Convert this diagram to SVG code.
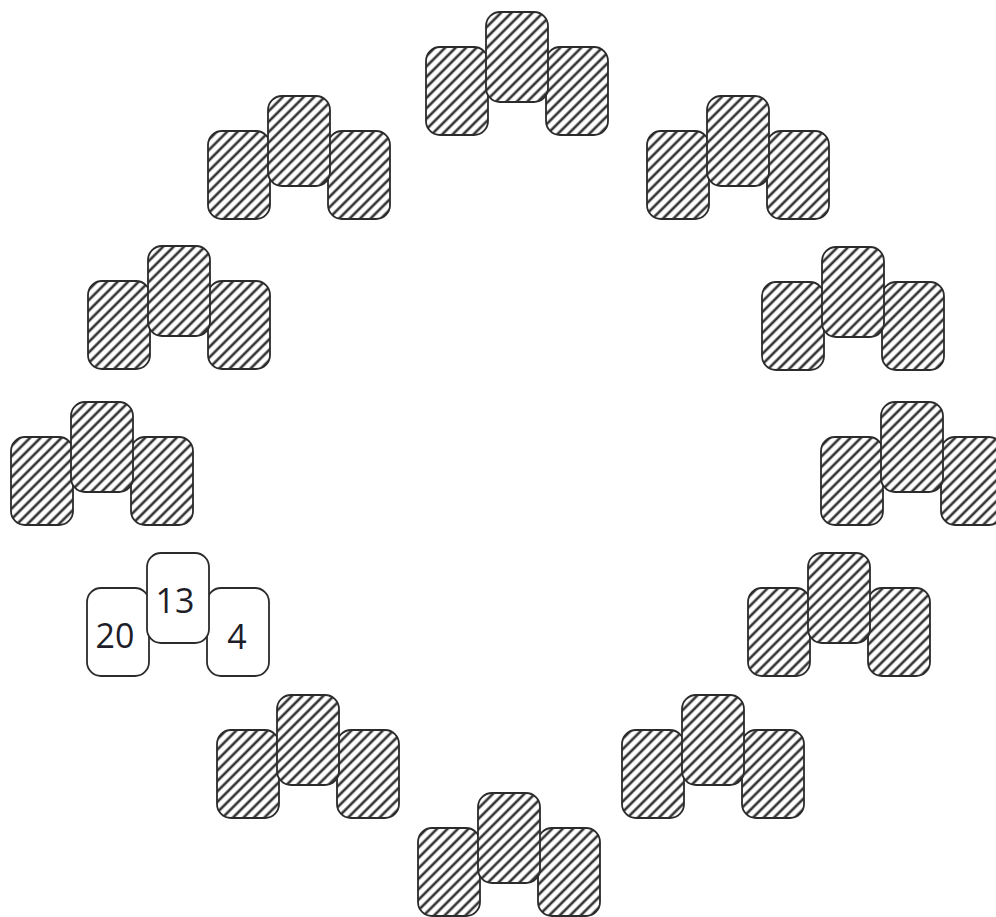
<svg xmlns="http://www.w3.org/2000/svg" xmlns:xlink="http://www.w3.org/1999/xlink" width="996" height="917" viewBox="0 0 996 917">
<style>
.card{fill:url(#hatch);stroke:#2b2b2b;stroke-width:1.8}
.plain{fill:#fff;stroke:#2b2b2b;stroke-width:1.8}
.num{font-family:"Open Sans","Liberation Sans",sans-serif;font-size:34px;font-weight:500;fill:#1e1e2a;text-anchor:middle}
</style>
<defs>
<pattern id="hatch" patternUnits="userSpaceOnUse" width="7.4" height="7.4" patternTransform="rotate(45)">
<rect width="7.4" height="7.4" fill="#fff"/>
<line x1="1.8" y1="0" x2="1.8" y2="7.4" stroke="#333" stroke-width="2.6"/>
</pattern>
<g id="trio">
<rect class="card" x="0" y="35" width="62" height="88" rx="14"/>
<rect class="card" x="120" y="35" width="62" height="88" rx="14"/>
<rect class="card" x="60" y="0" width="62" height="90" rx="14"/>
</g>
</defs>
<g id="n1"><use xlink:href="#trio" x="426" y="12"/></g>
<g id="n2"><use xlink:href="#trio" x="208" y="96"/></g>
<g id="n3"><use xlink:href="#trio" x="88" y="246"/></g>
<g id="n4"><use xlink:href="#trio" x="11" y="402"/></g>
<g id="n5">
<rect class="plain" x="87" y="588" width="62" height="88" rx="14"/>
<rect class="plain" x="207" y="588" width="62" height="88" rx="14"/>
<rect class="plain" x="147" y="553" width="62" height="90" rx="14"/>
<text class="num" x="115" y="648">20</text>
<text class="num" x="175" y="613">13</text>
<text class="num" x="237" y="649">4</text>
</g>
<g id="n6"><use xlink:href="#trio" x="217" y="695"/></g>
<g id="n7"><use xlink:href="#trio" x="418" y="793"/></g>
<g id="n8"><use xlink:href="#trio" x="622" y="695"/></g>
<g id="n9"><use xlink:href="#trio" x="748" y="553"/></g>
<g id="n10"><use xlink:href="#trio" x="821" y="402"/></g>
<g id="n11"><use xlink:href="#trio" x="762" y="247"/></g>
<g id="n12"><use xlink:href="#trio" x="647" y="96"/></g>
</svg>
